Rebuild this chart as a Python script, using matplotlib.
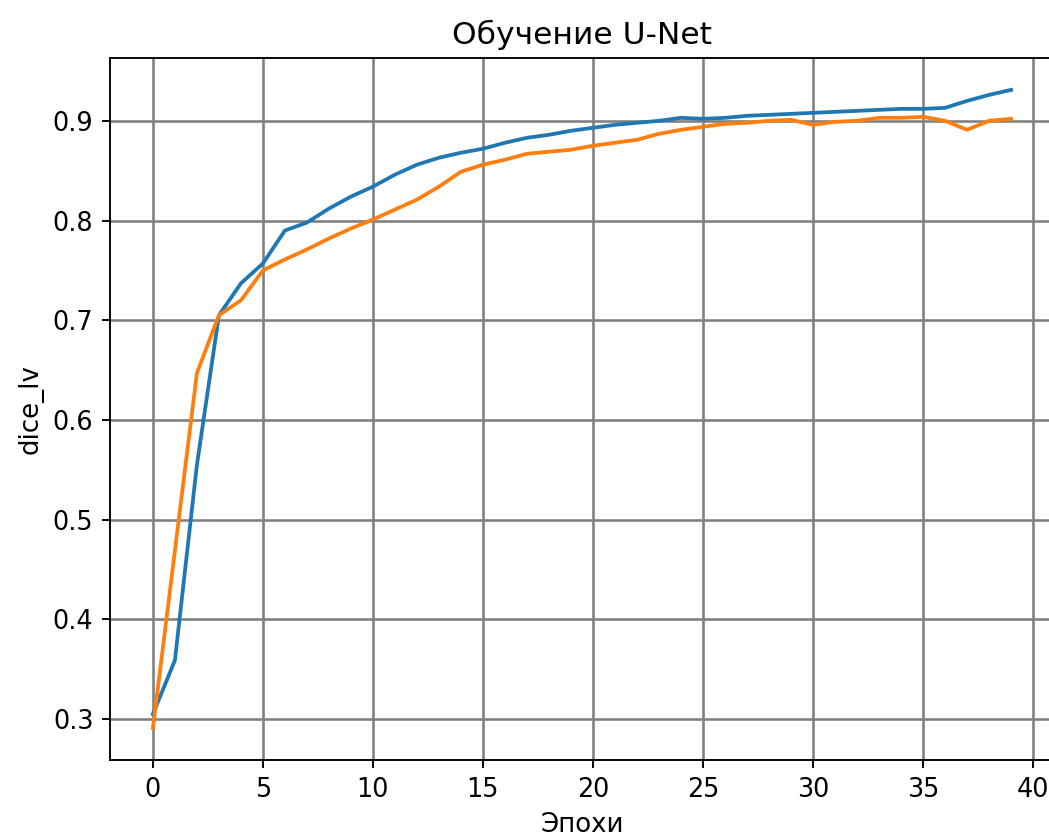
import matplotlib
matplotlib.use('Agg')
import matplotlib.pyplot as plt

epochs = list(range(40))
train_dice = [0.305, 0.359, 0.555, 0.705, 0.737, 0.757, 0.790, 0.798, 0.812, 0.824,
              0.834, 0.846, 0.856, 0.863, 0.868, 0.872, 0.878, 0.883, 0.886, 0.890,
              0.893, 0.896, 0.898, 0.900, 0.903, 0.902, 0.903, 0.905, 0.906, 0.907,
              0.908, 0.909, 0.910, 0.911, 0.912, 0.912, 0.913, 0.920, 0.926, 0.931]
val_dice = [0.291, 0.469, 0.647, 0.705, 0.720, 0.750, 0.761, 0.771, 0.782, 0.792,
            0.801, 0.811, 0.821, 0.834, 0.849, 0.856, 0.861, 0.867, 0.869, 0.871,
            0.875, 0.878, 0.881, 0.887, 0.891, 0.894, 0.897, 0.898, 0.900, 0.901,
            0.896, 0.899, 0.900, 0.903, 0.903, 0.904, 0.900, 0.891, 0.900, 0.902]

fig = plt.figure(figsize=(1049 / 170, 839 / 170), dpi=170)
ax = fig.add_axes([110 / 1049, 79 / 839, 944 / 1049, 702 / 839])
ax.plot(epochs, train_dice, linewidth=1.6)
ax.plot(epochs, val_dice, linewidth=1.6)
ax.set_xlim(-1.95, 40.95)
ax.set_title('Обучение U-Net', fontsize=13.3)
ax.set_xlabel('Эпохи', fontsize=11)
ax.set_ylabel('dice_lv', fontsize=11)
ax.tick_params(labelsize=10.8)
ax.grid(True, color='gray', linewidth=1.1)
fig.savefig('out.png', dpi=170)
